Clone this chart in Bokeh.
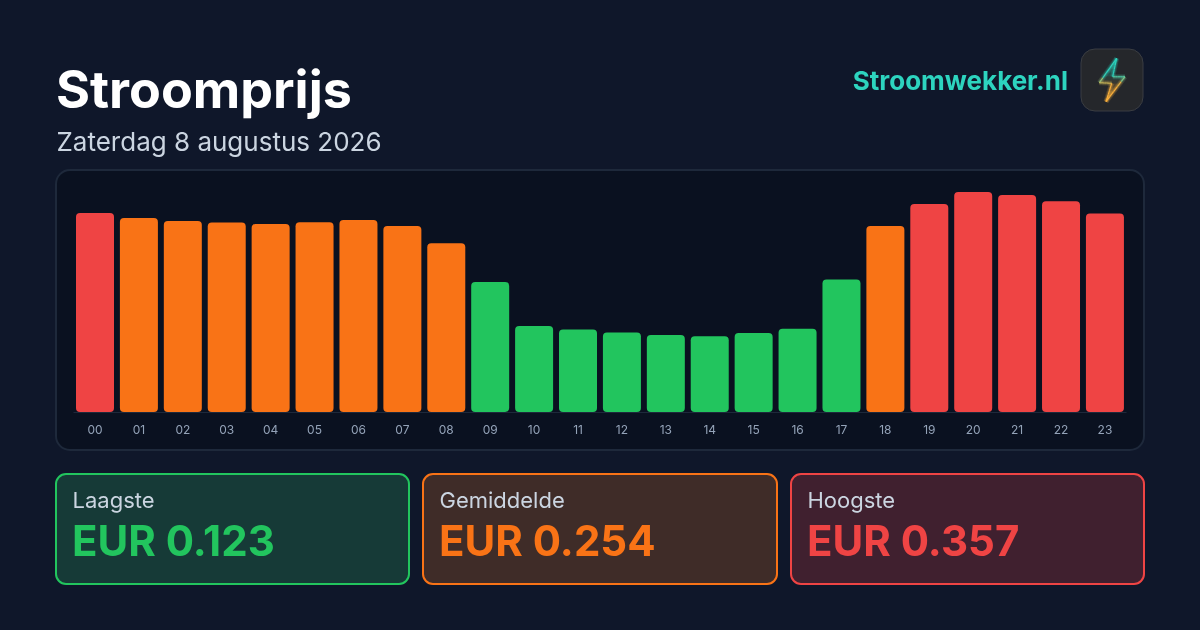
from bokeh.plotting import figure
from bokeh.models import FixedTicker, Range1d
from bokeh.core.properties import value
from bokeh.embed import file_html
from bokeh.resources import INLINE

# ---- data
hours = list(range(24))
hour_labels = ["%02d" % h for h in hours]
prices = [0.323, 0.315, 0.310, 0.3075, 0.305, 0.308, 0.3116, 0.302, 0.274, 0.211, 0.1396, 0.134,
          0.129, 0.125, 0.123, 0.128, 0.135, 0.215, 0.302, 0.3375, 0.357, 0.352, 0.342, 0.322]
levels = ["h", "m", "m", "m", "m", "m", "m", "m", "m", "l", "l", "l",
          "l", "l", "l", "l", "l", "l", "m", "h", "h", "h", "h", "h"]
title = "Stroomprijs"
subtitle = "Zaterdag 8 augustus 2026"
brand = "Stroomwekker.nl"
card_labels = ["Laagste", "Gemiddelde", "Hoogste"]
card_values = ["EUR 0.123", "EUR 0.254", "EUR 0.357"]

GREEN, ORANGE, RED = "#22c55e", "#f97316", "#ef4444"
level_colors = {"l": GREEN, "m": ORANGE, "h": RED}
BG = "#0f172a"
FONT = value("Inter")

W, H = 1200, 630
PITCH = 43.91          # px per hour
PX0 = 95.0             # px of hour 0
PY0 = 412.0            # px of price 0
KY = 0.357 / 220       # price per px


def X(px):
    return (px - PX0) / PITCH


def Y(py):
    return (PY0 - py) * KY


# the figure is 2px larger than the page so that its edge hairline stays off the page
p = figure(width=W + 2, height=H + 2, output_backend="svg", toolbar_location=None,
           x_range=Range1d(X(-0.5), X(W + 1.5)), y_range=Range1d(Y(H + 1.5), Y(-0.5)),
           min_border=0)
p.styles = {"position": "fixed", "left": "-1px", "top": "-1px"}
p.background_fill_color = BG
p.border_fill_color = BG
p.outline_line_color = None
p.grid.visible = False
p.yaxis.visible = False


def box(l, t, r, b, fill, line, radius, lw=2):
    p.quad(left=[X(l)], right=[X(r)], top=[Y(t)], bottom=[Y(b)], fill_color=fill, line_color=line,
           line_width=lw, border_radius=radius)


def text(x, y, s, size, color, style="normal", align="left"):
    p.text(x=[X(x - 0.5)], y=[Y(y - 0.5)], text=[s], text_font=FONT, text_font_size=value("%gpx" % size),
           text_color=color, text_font_style=style, text_align=align, text_baseline="alphabetic")


# chart panel
box(56, 170, 1144, 450, "#0a1120", "#1e293b", 14)

# x axis with the hour labels
ax = p.xaxis[0]
ax.fixed_location = 0
ax.bounds = (-0.5, 23.5)
ax.ticker = FixedTicker(ticks=hours)
ax.major_label_overrides = dict(zip(hours, hour_labels))
ax.major_tick_line_color = None
ax.minor_tick_line_color = None
ax.axis_line_color = "#1e293b"
ax.axis_line_width = 1
ax.major_label_text_color = "#94a3b8"
ax.major_label_text_font = "Inter"
ax.major_label_text_font_size = "12px"
ax.major_label_standoff = 7

# bars
p.vbar(x=hours, top=prices, bottom=0, width=38 / PITCH, fill_color=[level_colors[l] for l in levels],
       line_color=None, border_radius=4)

# header
text(56.5, 90, title, 52, "#ffffff", "bold")
text(57, 142, subtitle, 26, "#cbd5e1")
text(1068.5, 81, brand, 26, "#2dd4bf", "bold", "right")

# stat cards
cards = [(56, 409, GREEN, "#163a37"), (423, 777, ORANGE, "#3f2c28"), (791, 1144, RED, "#40202f")]
for (l, r, c, fill), lab, val in zip(cards, card_labels, card_values):
    box(l, 474, r, 584, fill, c, 10)
    text(l + 17, 500, lab, 22, "#cbd5e1")
    text(l + 16.5, 541, val, 42, c, "bold")

# logo
box(1081, 49, 1143, 111, "#25272b", "#3a3d42", 14, lw=1)
bolt = [(1116.7, 58.3), (1099.3, 82.7), (1111.7, 83.3), (1106, 101.7), (1125, 76.7), (1112.7, 76.7)]
TEAL, AMBER = (45, 212, 191), (250, 176, 60)


def mix(t):
    t = min(1.0, max(0.0, (t - 0.38) / 0.24))
    return "#%02x%02x%02x" % tuple(int(TEAL[i] + (AMBER[i] - TEAL[i]) * t) for i in range(3))


def clip(poly, y0, y1):
    def cut(pts, inside, y):
        out = []
        for i, q in enumerate(pts):
            o = pts[i - 1]
            if inside(q) != inside(o):
                f = (y - o[1]) / (q[1] - o[1])
                out.append((o[0] + (q[0] - o[0]) * f, y))
            if inside(q):
                out.append(q)
        return out
    pts = cut(poly, lambda q: q[1] >= y0, y0)
    return cut(pts, lambda q: q[1] <= y1, y1) if pts else pts


N = 12
y_top, y_bot = 58.3, 101.7
band_xs, band_ys, band_cols, band_alpha = [], [], [], []
for i in range(N):
    y0 = y_top + (y_bot - y_top) * i / N
    y1 = y_top + (y_bot - y_top) * (i + 1) / N
    pts = clip(bolt, y0, y1)
    if len(pts) > 2:
        t = (i + .5) / N
        band_xs.append([X(q[0]) for q in pts])
        band_ys.append([Y(q[1]) for q in pts])
        band_cols.append(mix(t))
        band_alpha.append(0.08 + 0.55 * abs(t - 0.5) * 2)
p.patches(band_xs, band_ys, fill_color=band_cols, fill_alpha=band_alpha, line_color=None)

M = 5
seg_xs, seg_ys, seg_cols = [], [], []
for i in range(len(bolt)):
    a, b = bolt[i], bolt[(i + 1) % len(bolt)]
    for j in range(M):
        s = (a[0] + (b[0] - a[0]) * j / M, a[1] + (b[1] - a[1]) * j / M)
        e = (a[0] + (b[0] - a[0]) * (j + 1) / M, a[1] + (b[1] - a[1]) * (j + 1) / M)
        seg_xs.append([X(s[0]), X(e[0])])
        seg_ys.append([Y(s[1]), Y(e[1])])
        seg_cols.append(mix(((s[1] + e[1]) / 2 - y_top) / (y_bot - y_top)))
p.multi_line(seg_xs, seg_ys, line_color=seg_cols, line_alpha=0.18, line_width=5)
p.multi_line(seg_xs, seg_ys, line_color=seg_cols, line_alpha=0.25, line_width=3)
p.multi_line(seg_xs, seg_ys, line_color=seg_cols, line_alpha=1, line_width=1.1)

open("out.html", "w").write(file_html(p, INLINE))
